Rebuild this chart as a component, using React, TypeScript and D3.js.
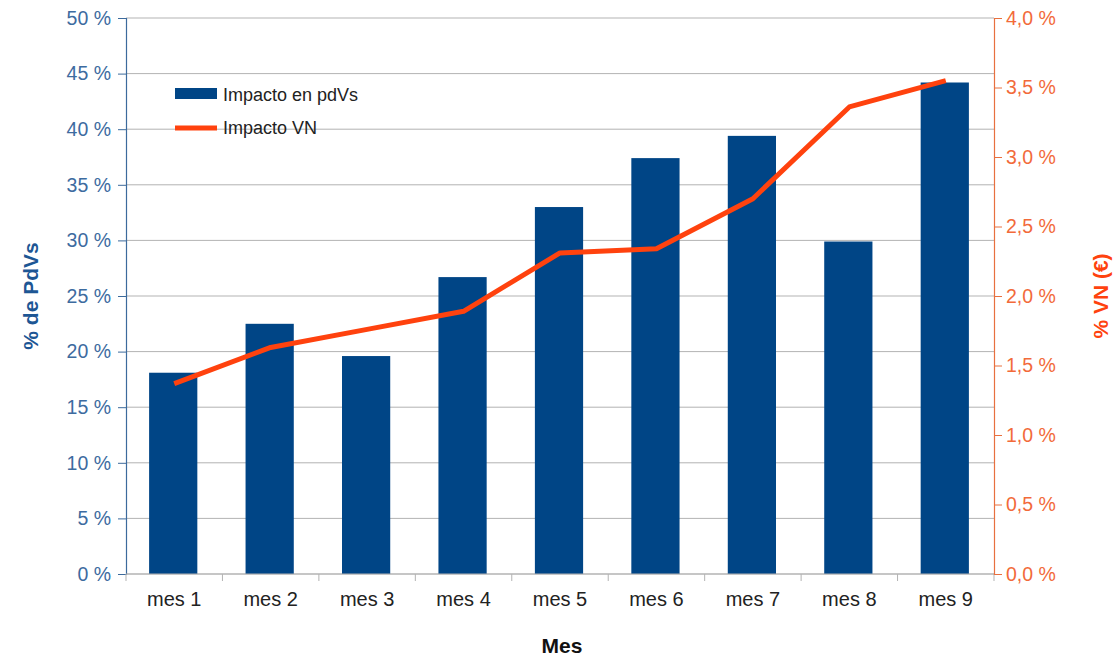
import { useEffect, useRef } from "react";
import * as d3 from "d3";

const months = ["mes 1", "mes 2", "mes 3", "mes 4", "mes 5", "mes 6", "mes 7", "mes 8", "mes 9"];
const pdvImpact = [18.1, 22.5, 19.6, 26.7, 33.0, 37.4, 39.4, 29.9, 44.2];
const vnImpact = [1.37, 1.63, 1.76, 1.89, 2.31, 2.34, 2.7, 3.36, 3.55];
const leftTicks = [0, 5, 10, 15, 20, 25, 30, 35, 40, 45, 50];
const rightTicks = [0, 0.5, 1, 1.5, 2, 2.5, 3, 3.5, 4];

const W = 1114;
const H = 655;
const margin = { top: 18, right: 120, bottom: 81, left: 126 };

const BLUE = "#004586";
const ORANGE = "#ff420e";
const FONT = "'Liberation Sans', Arial, sans-serif";

export default function App() {
  const svgRef = useRef<SVGSVGElement>(null);

  useEffect(() => {
    if (!svgRef.current) return;
    const svg = d3.select(svgRef.current);
    svg.selectAll("*").remove();

    const x0 = margin.left;
    const x1 = W - margin.right;
    const y0 = H - margin.bottom;
    const y1 = margin.top;

    const x = d3.scaleBand().domain(months).range([x0, x1]).paddingInner(0.5).paddingOuter(0.25);
    const band = d3.scaleBand().domain(months).range([x0, x1]);
    const yL = d3.scaleLinear().domain([0, 50]).range([y0, y1]);
    const yR = d3.scaleLinear().domain([0, 4]).range([y0, y1]);

    // ── gridlines ──
    svg
      .append("g")
      .selectAll("line")
      .data(leftTicks)
      .join("line")
      .attr("x1", x0)
      .attr("x2", x1)
      .attr("y1", (d) => yL(d))
      .attr("y2", (d) => yL(d))
      .attr("stroke", "#b3b3b3")
      .attr("stroke-width", 1);

    // ── bars ──
    svg
      .append("g")
      .selectAll("rect")
      .data(months)
      .join("rect")
      .attr("x", (d) => x(d)! - 1)
      .attr("width", x.bandwidth())
      .attr("y", (_, i) => yL(pdvImpact[i]))
      .attr("height", (_, i) => y0 - yL(pdvImpact[i]))
      .attr("fill", BLUE);

    // ── left axis ──
    const gL = svg
      .append("g")
      .attr("transform", `translate(${x0},0)`)
      .call(
        d3
          .axisLeft(yL)
          .tickValues(leftTicks)
          .tickSize(8)
          .tickPadding(7)
          .tickFormat((d) => `${d} %`)
      );
    gL.select(".domain").attr("stroke", "#3c6a9c").attr("stroke-width", 1.2);
    gL.selectAll(".tick line").attr("stroke", "#3c6a9c");
    gL.selectAll("text")
      .attr("fill", "#3d6b9f")
      .attr("font-family", FONT)
      .attr("font-size", 19.5);

    // ── bottom axis ──
    const gB = svg.append("g").attr("transform", `translate(0,${y0})`);
    gB.append("line")
      .attr("x1", x0)
      .attr("x2", x1)
      .attr("stroke", "#b3b3b3");
    gB.selectAll("line.sep")
      .data(d3.range(months.length + 1))
      .join("line")
      .attr("class", "sep")
      .attr("x1", (i) => x0 + i * band.bandwidth())
      .attr("x2", (i) => x0 + i * band.bandwidth())
      .attr("y1", 0)
      .attr("y2", 7)
      .attr("stroke", "#b3b3b3");
    gB.selectAll("text")
      .data(months)
      .join("text")
      .attr("x", (d) => band(d)! + band.bandwidth() / 2)
      .attr("y", 25)
      .attr("dominant-baseline", "central")
      .attr("text-anchor", "middle")
      .attr("font-family", FONT)
      .attr("font-size", 20)
      .attr("fill", "#222")
      .text((d) => d);

    // ── right axis ──
    const gR = svg
      .append("g")
      .attr("transform", `translate(${x1},0)`)
      .call(
        d3
          .axisRight(yR)
          .tickValues(rightTicks)
          .tickSize(8)
          .tickPadding(4)
          .tickFormat((d) => `${d3.format(".1f")(d as number).replace(".", ",")} %`)
      );
    gR.select(".domain").attr("stroke", "#e8703f").attr("stroke-width", 1.2);
    gR.selectAll(".tick line").attr("stroke", "#e8703f");
    gR.selectAll("text")
      .attr("fill", "#f26a3a")
      .attr("font-family", FONT)
      .attr("font-size", 19.5);

    // ── line ──
    const line = d3
      .line<number>()
      .x((_, i) => band(months[i])! + band.bandwidth() / 2)
      .y((d) => yR(d));
    svg
      .append("path")
      .datum(vnImpact)
      .attr("d", line)
      .attr("fill", "none")
      .attr("stroke", ORANGE)
      .attr("stroke-width", 5)
      .attr("stroke-linejoin", "round");

    // ── axis titles ──
    svg
      .append("text")
      .attr("x", 562)
      .attr("y", 645)
      .attr("text-anchor", "middle")
      .attr("dominant-baseline", "central")
      .attr("font-family", FONT)
      .attr("font-weight", "bold")
      .attr("font-size", 21)
      .attr("fill", "#111")
      .text("Mes");
    svg
      .append("text")
      .attr("transform", `translate(30,${(y0 + y1) / 2}) rotate(-90)`)
      .attr("text-anchor", "middle")
      .attr("dominant-baseline", "central")
      .attr("font-family", FONT)
      .attr("font-weight", "bold")
      .attr("font-size", 21)
      .attr("fill", "#1d5694")
      .text("% de PdVs");
    svg
      .append("text")
      .attr("transform", `translate(1100,${(y0 + y1) / 2}) rotate(-90)`)
      .attr("text-anchor", "middle")
      .attr("dominant-baseline", "central")
      .attr("font-family", FONT)
      .attr("font-weight", "bold")
      .attr("font-size", 21)
      .attr("fill", ORANGE)
      .text("% VN (€)");

    // ── legend ──
    const lg = svg.append("g").attr("transform", "translate(175,0)");
    lg.append("rect").attr("x", 0).attr("y", 88).attr("width", 42).attr("height", 11).attr("fill", BLUE);
    lg.append("text")
      .attr("x", 48)
      .attr("y", 95)
      .attr("dominant-baseline", "central")
      .attr("font-family", FONT)
      .attr("font-size", 18)
      .attr("fill", "#222")
      .text("Impacto en pdVs");
    lg.append("line")
      .attr("x1", 0)
      .attr("x2", 42)
      .attr("y1", 128)
      .attr("y2", 128)
      .attr("stroke", ORANGE)
      .attr("stroke-width", 5);
    lg.append("text")
      .attr("x", 48)
      .attr("y", 128)
      .attr("dominant-baseline", "central")
      .attr("font-family", FONT)
      .attr("font-size", 18)
      .attr("fill", "#222")
      .text("Impacto VN");
  }, []);

  return (
    <svg
      ref={svgRef}
      width={W}
      height={H}
      style={{ position: "absolute", left: 0, top: 0, background: "#fff" }}
    />
  );
}
